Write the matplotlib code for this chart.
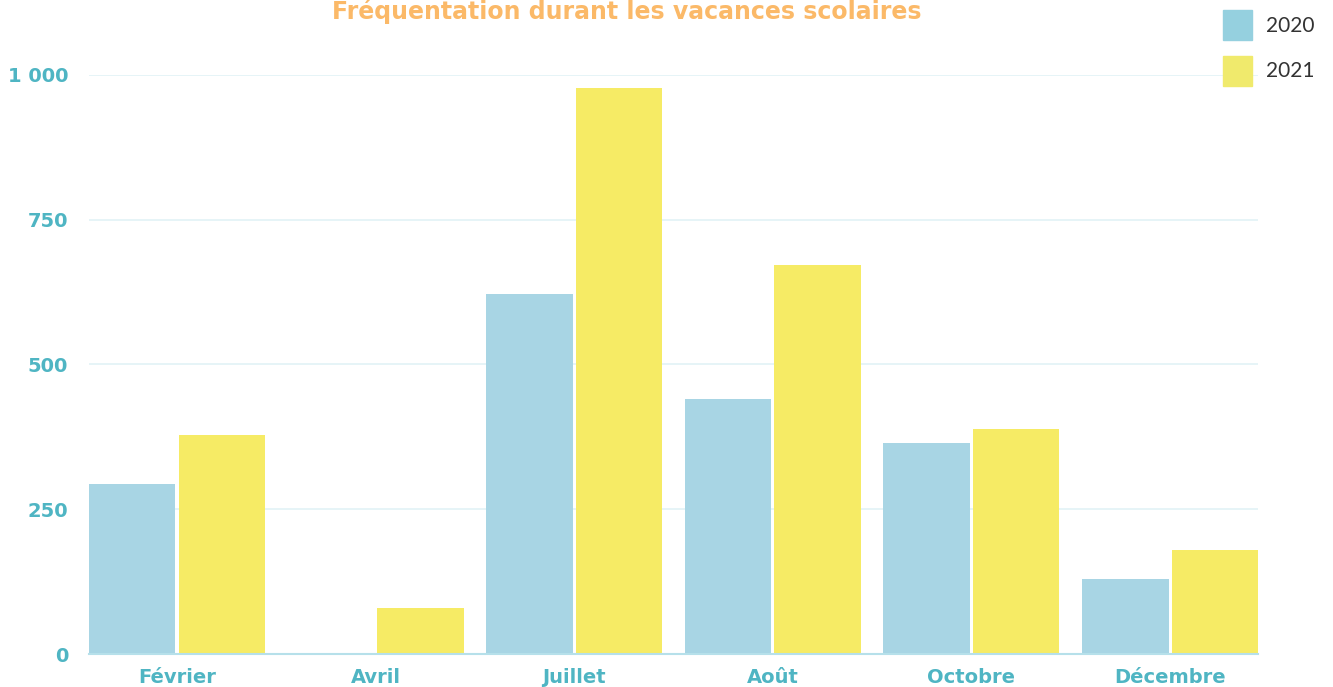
import matplotlib
matplotlib.use("Agg")

import numpy as np
import matplotlib.pyplot as plt
from matplotlib.patches import Patch
from matplotlib.font_manager import FontProperties


months = ["Février", "Avril", "Juillet", "Août", "Octobre", "Décembre"]
visits_2020 = [294, 0, 622, 440, 364, 130]
visits_2021 = [378, 79, 977, 672, 389, 180]
y_ticks = [0, 250, 500, 750, 1000]
y_tick_labels = ["0", "250", "500", "750", "1 000"]

BLUE = "#a8d5e4"
YELLOW = "#f6eb65"
TEAL = "#4fb5c3"
ORANGE = "#fbb968"

fig = plt.figure(figsize=(13.33, 6.87), dpi=100)
ax = fig.add_axes([0.0668, 0.048, 0.877, 0.843])

x = np.arange(len(months))
w = 0.435
gap = 0.008
ax.bar(x - w / 2 - gap, visits_2020, w, color=BLUE, label="2020", zorder=2)
ax.bar(x + w / 2 + gap, visits_2021, w, color=YELLOW, label="2021", zorder=2)

ax.set_xlim(-w - gap, len(months) - 1 + w + gap)
ax.set_ylim(0, 1000)
ax.set_yticks(y_ticks)
ax.set_yticklabels(y_tick_labels)
ax.set_xticks(x)
ax.set_xticklabels(months)

ax.tick_params(axis="both", length=0, labelcolor=TEAL, labelsize=14)
ax.tick_params(axis="y", pad=15)
ax.tick_params(axis="x", pad=10)
for lab in ax.get_xticklabels() + ax.get_yticklabels():
    lab.set_fontweight("bold")

ax.grid(axis="y", color="#e2f2f6", linewidth=1.2, zorder=0)
for s in ["top", "right", "left"]:
    ax.spines[s].set_visible(False)
ax.spines["bottom"].set_color("#b6e0ea")
ax.spines["bottom"].set_linewidth(1.5)
ax.spines["bottom"].set_zorder(3)

fig.text(0.47, 0.983, "Fréquentation durant les vacances scolaires",
         ha="center", va="center", color=ORANGE, fontsize=17, fontweight="bold")

handles = [Patch(color="#95d0df"), Patch(color="#f0ea6c")]
fig.legend(handles, ["2020", "2021"], loc="upper right",
           bbox_to_anchor=(1.0, 1.013), frameon=False,
           prop=FontProperties(family="Lato", weight="normal", size=15),
           handlelength=1.4, handleheight=1.85, labelspacing=0.75,
           handletextpad=0.65, labelcolor="#333333")

fig.savefig("out.png", dpi=100)
